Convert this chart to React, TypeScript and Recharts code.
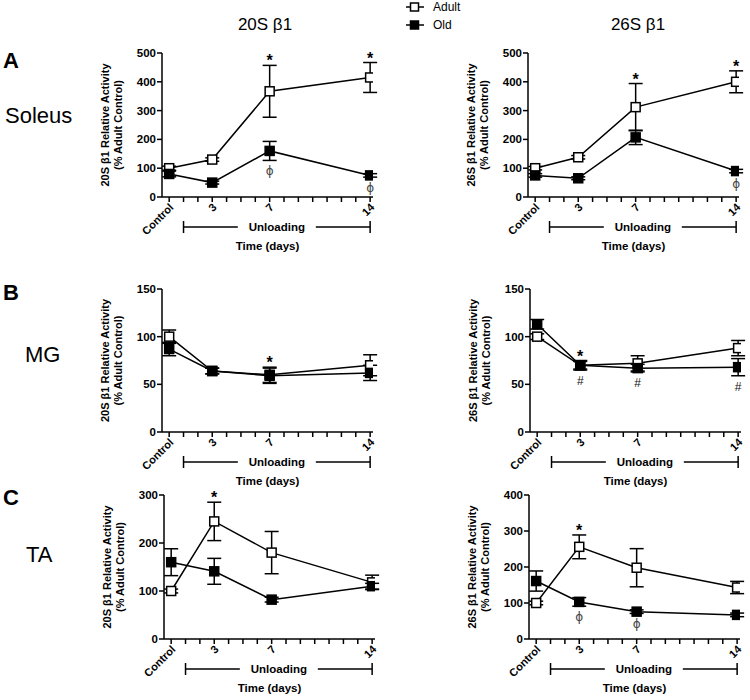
import React from 'react';
import { LineChart, Line, XAxis, YAxis, ErrorBar, ReferenceDot } from 'recharts';

const FONT = '"Liberation Sans", Arial, Helvetica, sans-serif';

// x: days of unloading (0 = control)
const days = [0, 3, 7, 14];
const dayTicks = [0, 1, 2, 3, 4, 5, 6, 7, 8, 9, 10, 11, 12, 13, 14];
const dayLabels: Record<number, string> = { 0: 'Control', 3: '3', 7: '7', 14: '14' };
const unloadingSpan = [1, 14];
const seriesNames = ['Adult', 'Old'];
const X_DOMAIN: [number, number] = [-0.5, 14.2];

// A - Soleus
const sol20Adult = [100, 130, 367, 415];
const sol20AdultErr = [7, 6, 90, 52];
const sol20Old = [80, 50, 160, 75];
const sol20OldErr = [10, 5, 33, 6];
const sol20AdultMarks = ['', '', '*', '*'];
const sol20OldMarks = ['', '', 'ϕ', 'ϕ'];

const sol26Adult = [100, 138, 312, 400];
const sol26AdultErr = [6, 6, 82, 38];
const sol26Old = [75, 65, 207, 90];
const sol26OldErr = [6, 5, 25, 6];
const sol26AdultMarks = ['', '', '*', '*'];
const sol26OldMarks = ['', '', '', 'ϕ'];

// B - MG
const mg20Adult = [100, 64, 60, 70];
const mg20AdultErr = [7, 3, 8, 11];
const mg20Old = [87, 64, 59, 62];
const mg20OldErr = [7, 3, 8, 8];
const mg20AdultMarks = ['', '', '*', ''];
const mg20OldMarks = ['', '', '', ''];

const mg26Adult = [100, 70, 72, 88];
const mg26AdultErr = [3, 4, 8, 8];
const mg26Old = [113, 70, 67, 68];
const mg26OldErr = [5, 5, 4, 9];
const mg26AdultMarks = ['', '*', '', ''];
const mg26OldMarks = ['', '#', '#', '#'];

// C - TA
const ta20Adult = [100, 245, 180, 118];
const ta20AdultErr = [4, 40, 44, 15];
const ta20Old = [160, 141, 82, 110];
const ta20OldErr = [28, 27, 5, 6];
const ta20AdultMarks = ['', '*', '', ''];
const ta20OldMarks = ['', '', '', ''];

const ta26Adult = [100, 256, 198, 143];
const ta26AdultErr = [5, 33, 53, 17];
const ta26Old = [161, 103, 76, 67];
const ta26OldErr = [28, 12, 5, 5];
const ta26AdultMarks = ['', '*', '', ''];
const ta26OldMarks = ['', 'ϕ', 'ϕ', ''];

const Y_AXIS_W = 80;
const PLOT_W = 211;
const TOP_PAD = 20;
const RIGHT_PAD = 14;
const X_AXIS_H = 65;

const squareDot = (fill: string) => (props: any) => {
  const { cx, cy, index } = props;
  if (cx == null || cy == null) return <g key={`e-${index}`} />;
  return (
    <rect
      key={`sq-${fill}-${index}`}
      x={cx - 4.5}
      y={cy - 4.5}
      width={9}
      height={9}
      fill={fill}
      stroke="#000"
      strokeWidth={1.5}
    />
  );
};

function DayTick({ x, y, payload }: any) {
  const label = dayLabels[payload.value];
  if (!label) return <g />;
  const px = x + 5;
  const py = y + 4;
  return (
    <text
      x={px}
      y={py}
      transform={`rotate(-45, ${px}, ${py})`}
      textAnchor="end"
      fontFamily={FONT}
      fontSize={11}
      fontWeight="bold"
      fill="#000"
    >
      {label}
    </text>
  );
}

function UnloadingBracket(props: any) {
  const vb = props.viewBox;
  if (!vb) return null;
  const { x, y, width } = vb;
  const sx = (d: number) => x + ((d - X_DOMAIN[0]) / (X_DOMAIN[1] - X_DOMAIN[0])) * width;
  const x1 = sx(unloadingSpan[0]);
  const x2 = sx(unloadingSpan[1]);
  const by = y + 30;
  const mid = (x1 + x2) / 2;
  const line = { stroke: '#000', strokeWidth: 1.5 };
  return (
    <g>
      <line x1={x1} y1={by} x2={mid - 39} y2={by} {...line} />
      <line x1={mid + 39} y1={by} x2={x2} y2={by} {...line} />
      <line x1={x1} y1={by - 6} x2={x1} y2={by + 6} {...line} />
      <line x1={x2} y1={by - 6} x2={x2} y2={by + 6} {...line} />
      <text x={mid} y={by + 4} textAnchor="middle" fontFamily={FONT} fontSize={11.5} fontWeight="bold" fill="#000">
        Unloading
      </text>
      <text x={x + width / 2} y={y + 53} textAnchor="middle" fontFamily={FONT} fontSize={11.5} fontWeight="bold" fill="#000">
        Time (days)
      </text>
    </g>
  );
}

const makeYLabel = (line1: string) => (props: any) => {
  const vb = props.viewBox;
  if (!vb) return null;
  const px = vb.x + vb.width;
  const cy = vb.y + vb.height / 2;
  const txt = { textAnchor: 'middle' as const, fontFamily: FONT, fontSize: 11, fontWeight: 'bold', fill: '#000' };
  return (
    <g>
      <text transform={`translate(${px - 53}, ${cy}) rotate(-90)`} {...txt}>{line1}</text>
      <text transform={`translate(${px - 40}, ${cy}) rotate(-90)`} {...txt}>(% Adult Control)</text>
    </g>
  );
};

const markLabel = (mark: string, below: boolean) => (props: any) => {
  const vb = props.viewBox;
  if (!vb) return null;
  const cx = vb.x + (vb.width || 0) / 2;
  const cy = vb.y + (vb.height || 0) / 2;
  if (mark === '*') {
    return (
      <text x={cx} y={cy + 1} textAnchor="middle" fontFamily={FONT} fontSize={16} fontWeight="bold" fill="#000">*</text>
    );
  }
  return (
    <text
      x={cx}
      y={below ? cy + 15 : cy - 4}
      textAnchor="middle"
      fontFamily={mark === 'ϕ' ? '"DejaVu Sans", sans-serif' : FONT}
      fontSize={12}
      fill={mark === 'ϕ' ? '#444' : '#111'}
    >
      {mark}
    </text>
  );
};

interface PanelProps {
  yTitle: string;
  adult: number[];
  adultErr: number[];
  old: number[];
  oldErr: number[];
  adultMarks: string[];
  oldMarks: string[];
  yMax: number;
  yTicks: number[];
  plotLeft: number;
  plotTop: number;
  plotH: number;
}

function Panel(p: PanelProps) {
  const rows = days.map((d, i) => ({
    day: d,
    adult: p.adult[i],
    adultErr: p.adultErr[i],
    old: p.old[i],
    oldErr: p.oldErr[i],
  }));
  const width = Y_AXIS_W + PLOT_W + RIGHT_PAD;
  const height = TOP_PAD + p.plotH + X_AXIS_H;
  const axisStyle = { stroke: '#000', strokeWidth: 1.5 };

  return (
    <div style={{ position: 'absolute', left: p.plotLeft - Y_AXIS_W, top: p.plotTop - TOP_PAD }}>
      <LineChart
        width={width}
        height={height}
        data={rows}
        margin={{ top: TOP_PAD, right: RIGHT_PAD, bottom: 0, left: 0 }}
      >
        <XAxis
          dataKey="day"
          type="number"
          domain={X_DOMAIN}
          ticks={dayTicks}
          interval={0}
          allowDataOverflow
          height={X_AXIS_H}
          tickSize={5}
          tick={<DayTick />}
          axisLine={axisStyle}
          tickLine={axisStyle}
          label={<UnloadingBracket />}
        />
        <YAxis
          type="number"
          domain={[0, p.yMax]}
          ticks={p.yTicks}
          interval={0}
          width={Y_AXIS_W}
          tickSize={5}
          tickMargin={1}
          axisLine={axisStyle}
          tickLine={axisStyle}
          tick={{ fill: '#000', fontSize: 11.5, fontWeight: 'bold', fontFamily: FONT }}
          label={makeYLabel(p.yTitle)}
        />
        <Line
          dataKey="adult"
          stroke="#000"
          strokeWidth={1.5}
          dot={squareDot('#fff')}
          activeDot={false}
          isAnimationActive={false}
        >
          <ErrorBar dataKey="adultErr" direction="y" width={7} stroke="#000" strokeWidth={1.5} />
        </Line>
        <Line
          dataKey="old"
          stroke="#000"
          strokeWidth={1.5}
          dot={squareDot('#000')}
          activeDot={false}
          isAnimationActive={false}
        >
          <ErrorBar dataKey="oldErr" direction="y" width={7} stroke="#000" strokeWidth={1.5} />
        </Line>
        {p.adultMarks.map((m, i) =>
          m ? (
            <ReferenceDot
              key={`am-${i}`}
              x={days[i]}
              y={p.adult[i] + p.adultErr[i]}
              r={0}
              fill="none"
              stroke="none"
              label={markLabel(m, false)}
            />
          ) : null,
        )}
        {p.oldMarks.map((m, i) =>
          m ? (
            <ReferenceDot
              key={`om-${i}`}
              x={days[i]}
              y={p.old[i] - p.oldErr[i]}
              r={0}
              fill="none"
              stroke="none"
              label={markLabel(m, true)}
            />
          ) : null,
        )}
      </LineChart>
    </div>
  );
}

function Overlay() {
  const t = { fontFamily: FONT, fill: '#000' };
  return (
    <svg width={750} height={700} style={{ position: 'absolute', left: 0, top: 0 }}>
      <text x={265} y={30} textAnchor="middle" fontSize={17} {...t}>20S β1</text>
      <text x={638} y={30} textAnchor="middle" fontSize={17} {...t}>26S β1</text>

      <text x={3} y={68} fontSize={22} fontWeight="bold" {...t}>A</text>
      <text x={5} y={123} fontSize={22} {...t}>Soleus</text>
      <text x={3} y={300} fontSize={22} fontWeight="bold" {...t}>B</text>
      <text x={25} y={362} fontSize={22} {...t}>MG</text>
      <text x={3} y={505} fontSize={22} fontWeight="bold" {...t}>C</text>
      <text x={26} y={562} fontSize={22} {...t}>TA</text>

      {seriesNames.map((name, i) => {
        const cy = 7 + i * 18;
        return (
          <g key={name}>
            <line x1={406} y1={cy} x2={424} y2={cy} stroke="#000" strokeWidth={1.5} />
            <rect x={410.5} y={cy - 4} width={8} height={8} fill={i === 0 ? '#fff' : '#000'} stroke="#000" strokeWidth={1.5} />
            <text x={433} y={cy + 4} fontSize={12} {...t}>{name}</text>
          </g>
        );
      })}
    </svg>
  );
}

export default function App() {
  return (
    <div style={{ position: 'absolute', left: 0, top: 0, width: 750, height: 700, background: '#fff', overflow: 'hidden' }}>
      <Overlay />
      <Panel
        yTitle="20S β1 Relative Activity"
        adult={sol20Adult} adultErr={sol20AdultErr} old={sol20Old} oldErr={sol20OldErr}
        adultMarks={sol20AdultMarks} oldMarks={sol20OldMarks}
        yMax={500} yTicks={[0, 100, 200, 300, 400, 500]}
        plotLeft={162} plotTop={53} plotH={144}
      />
      <Panel
        yTitle="26S β1 Relative Activity"
        adult={sol26Adult} adultErr={sol26AdultErr} old={sol26Old} oldErr={sol26OldErr}
        adultMarks={sol26AdultMarks} oldMarks={sol26OldMarks}
        yMax={500} yTicks={[0, 100, 200, 300, 400, 500]}
        plotLeft={528} plotTop={53} plotH={144}
      />
      <Panel
        yTitle="20S β1 Relative Activity"
        adult={mg20Adult} adultErr={mg20AdultErr} old={mg20Old} oldErr={mg20OldErr}
        adultMarks={mg20AdultMarks} oldMarks={mg20OldMarks}
        yMax={150} yTicks={[0, 50, 100, 150]}
        plotLeft={162} plotTop={289} plotH={143}
      />
      <Panel
        yTitle="26S β1 Relative Activity"
        adult={mg26Adult} adultErr={mg26AdultErr} old={mg26Old} oldErr={mg26OldErr}
        adultMarks={mg26AdultMarks} oldMarks={mg26OldMarks}
        yMax={150} yTicks={[0, 50, 100, 150]}
        plotLeft={530} plotTop={289} plotH={143}
      />
      <Panel
        yTitle="20S β1 Relative Activity"
        adult={ta20Adult} adultErr={ta20AdultErr} old={ta20Old} oldErr={ta20OldErr}
        adultMarks={ta20AdultMarks} oldMarks={ta20OldMarks}
        yMax={300} yTicks={[0, 100, 200, 300]}
        plotLeft={164} plotTop={495} plotH={144}
      />
      <Panel
        yTitle="26S β1 Relative Activity"
        adult={ta26Adult} adultErr={ta26AdultErr} old={ta26Old} oldErr={ta26OldErr}
        adultMarks={ta26AdultMarks} oldMarks={ta26OldMarks}
        yMax={400} yTicks={[0, 100, 200, 300, 400]}
        plotLeft={529} plotTop={495} plotH={144}
      />
    </div>
  );
}
